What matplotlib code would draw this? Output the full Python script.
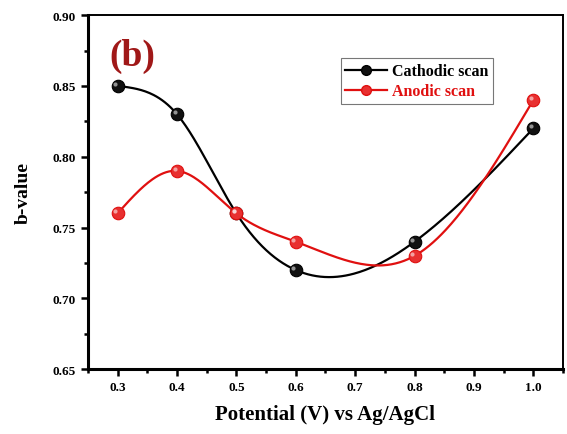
import numpy as np
import matplotlib.pyplot as plt
from matplotlib.ticker import MultipleLocator

potential = [0.3, 0.4, 0.5, 0.6, 0.8, 1.0]
b_cathodic = [0.85, 0.83, 0.76, 0.72, 0.74, 0.82]
b_anodic = [0.76, 0.79, 0.76, 0.74, 0.73, 0.84]


def spline_line(x, y, n=300):
    # natural cubic spline through the points, for the smooth connecting line
    x = np.asarray(x, float)
    y = np.asarray(y, float)
    k = len(x)
    h = np.diff(x)
    A = np.zeros((k, k))
    r = np.zeros(k)
    A[0, 0] = A[-1, -1] = 1.0
    for i in range(1, k - 1):
        A[i, i - 1] = h[i - 1]
        A[i, i] = 2 * (h[i - 1] + h[i])
        A[i, i + 1] = h[i]
        r[i] = 6 * ((y[i + 1] - y[i]) / h[i] - (y[i] - y[i - 1]) / h[i - 1])
    M = np.linalg.solve(A, r)
    xs = np.linspace(x[0], x[-1], n)
    idx = np.clip(np.searchsorted(x, xs) - 1, 0, k - 2)
    x0, x1 = x[idx], x[idx + 1]
    hh = x1 - x0
    a = (x1 - xs) / hh
    b = (xs - x0) / hh
    ys = (a * y[idx] + b * y[idx + 1]
          + ((a**3 - a) * M[idx] + (b**3 - b) * M[idx + 1]) * hh**2 / 6)
    return xs, ys


plt.rcParams['font.family'] = 'Liberation Serif'
plt.rcParams['font.weight'] = 'bold'

fig = plt.figure(figsize=(5.67, 4.35), dpi=100)
ax = fig.add_axes([0.155, 0.149, 0.838, 0.814])

series = [(b_cathodic, 'black', '#111111', 'Cathodic scan'),
          (b_anodic, '#e01010', '#e83030', 'Anodic scan')]
for yv, lc, fc, lab in series:
    xs, ys = spline_line(potential, yv)
    ax.plot(xs, ys, color=lc, lw=1.6, zorder=2)
    ax.plot(potential, yv, 'o', ms=9, mfc=fc, mec=lc, mew=0.8, zorder=3)
    # small highlight so the markers look like balls
    ax.plot(np.array(potential) - 0.004, np.array(yv) + 0.0015, 'o', ms=3,
            mfc='white', mec='none', alpha=0.55, zorder=4)
    ax.plot([], [], '-o', color=lc, lw=1.6, ms=7, mfc=fc, mec=lc, label=lab)

ax.set_xlim(0.25, 1.05)
ax.set_ylim(0.65, 0.90)
ax.xaxis.set_major_locator(MultipleLocator(0.1))
ax.xaxis.set_minor_locator(MultipleLocator(0.05))
ax.yaxis.set_major_locator(MultipleLocator(0.05))
ax.yaxis.set_minor_locator(MultipleLocator(0.025))
ax.xaxis.set_major_formatter(plt.FuncFormatter(lambda v, p: '%.1f' % v))
ax.yaxis.set_major_formatter(plt.FuncFormatter(lambda v, p: '%.2f' % v))
ax.tick_params(which='both', direction='out', width=1.8, labelsize=9.5)
ax.tick_params(which='major', length=5)
ax.tick_params(which='minor', length=3)
for s in ['left', 'bottom']:
    ax.spines[s].set_linewidth(2.2)
for s in ['top', 'right']:
    ax.spines[s].set_linewidth(1.4)

ax.set_xlabel('Potential (V) vs Ag/AgCl', fontsize=15, fontweight='bold',
              labelpad=8)
ax.set_ylabel('b-value', fontsize=14, fontweight='bold', labelpad=15)

ax.text(0.046, 0.887, '(b)', transform=ax.transAxes, fontsize=27,
        fontweight='bold', color='#a01818', va='center')

leg = ax.legend(loc='upper left', bbox_to_anchor=(0.515, 0.9), fontsize=11.5,
                frameon=True, fancybox=False, edgecolor='#555555',
                handlelength=2.6, borderpad=0.3, labelspacing=0.25,
                handletextpad=0.3)
leg.get_frame().set_linewidth(0.8)
for txt, (_, lc, _, _) in zip(leg.get_texts(), series):
    txt.set_color(lc)

fig.savefig('out.png', dpi=100)
